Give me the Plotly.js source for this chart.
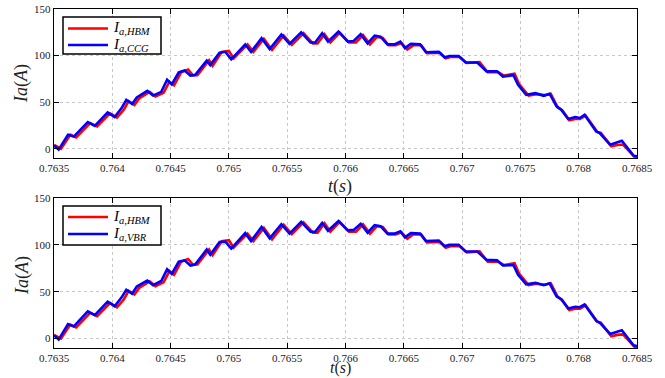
<!DOCTYPE html>
<html>
<head>
<meta charset="utf-8">
<script src="https://cdn.plot.ly/plotly-3.0.1.min.js"></script>
<style>html,body{margin:0;padding:0;background:#fff;}#chart{width:665px;height:378px;}</style>
</head>
<body>
<div id="chart"></div>
<script>
// HBM (reference model) current
const tHBM = [0.7635, 0.76356, 0.76364, 0.76369, 0.76381, 0.76387, 0.76398, 0.76404, 0.76410, 0.76414, 0.76419, 0.76423, 0.76432, 0.76437, 0.76444, 0.76449, 0.76453, 0.76459, 0.76465, 0.76469, 0.76473, 0.76483, 0.76486, 0.76494, 0.76500, 0.76504, 0.76516, 0.76521, 0.76530, 0.76537, 0.76547, 0.76554, 0.76564, 0.76572, 0.76576, 0.76582, 0.76587, 0.76595, 0.76603, 0.76609, 0.76615, 0.76621, 0.76627, 0.76632, 0.76637, 0.76643, 0.76648, 0.76653, 0.76658, 0.76665, 0.76670, 0.76681, 0.76686, 0.76690, 0.76698, 0.76704, 0.76715, 0.76722, 0.76731, 0.76736, 0.76745, 0.76749, 0.76757, 0.76764, 0.76771, 0.76776, 0.76782, 0.76786, 0.76792, 0.76797, 0.76801, 0.76806, 0.76816, 0.76819, 0.76828, 0.76833, 0.76838, 0.76848, 0.7685];
const iHBM = [4, 0, 15, 12, 27.5, 24, 38, 33.5, 42, 51, 47, 54, 61, 56, 60, 72, 68, 82, 85, 79, 79, 95, 89, 104, 105, 97, 112, 104, 118, 106, 121.5, 111.5, 124, 113, 113, 123, 114, 124.5, 114, 114, 122, 112, 120, 119, 111, 111, 113.5, 106.5, 111, 111, 102.5, 103, 97, 98.5, 98.5, 92, 93, 82, 82, 78.5, 80.5, 69, 57, 58.5, 57.5, 59, 44.5, 41, 30.5, 32, 32, 35.5, 18, 17, 2.5, 4, 4.5, -9, -9.5];

// CCG model current
const tCCG = [0.7635, 0.76354, 0.76362, 0.76367, 0.76379, 0.76385, 0.76396, 0.76402, 0.76408, 0.76412, 0.76417, 0.76421, 0.76430, 0.76435, 0.76442, 0.76447, 0.76451, 0.76457, 0.76462, 0.76467, 0.76471, 0.76481, 0.76484, 0.76492, 0.76497, 0.76502, 0.76514, 0.76519, 0.76528, 0.76535, 0.76545, 0.76552, 0.76562, 0.76570, 0.76574, 0.76580, 0.76585, 0.76594, 0.76602, 0.76607, 0.76613, 0.76619, 0.76625, 0.76630, 0.76636, 0.76642, 0.76647, 0.76651, 0.76656, 0.76664, 0.76669, 0.76680, 0.76685, 0.76689, 0.76697, 0.76703, 0.76713, 0.76721, 0.76730, 0.76735, 0.76744, 0.76748, 0.76755, 0.76763, 0.76770, 0.76775, 0.76781, 0.76785, 0.76791, 0.76797, 0.76801, 0.76805, 0.76815, 0.76818, 0.76827, 0.76832, 0.76837, 0.76847, 0.7685];
const iCCG = [3.5, -1, 15, 13, 28.6, 24.6, 39, 34, 43.6, 52.5, 48, 55, 62, 57, 61, 74, 69, 82, 84, 78.5, 79, 94.6, 89.7, 103, 104, 96, 112, 104, 118.6, 107, 122.5, 112.5, 125, 114, 114, 124, 115, 125.7, 115, 115.7, 123, 113, 121.4, 120.3, 112, 112, 115, 108, 112.5, 112, 103.6, 104, 98, 99.6, 99.6, 92.5, 92.5, 83, 83, 77.5, 79, 68.6, 57.9, 59.6, 56.8, 59, 45.4, 41.8, 31.8, 34, 33, 36.4, 18.6, 16.8, 4.3, 6.8, 8.6, -7.5, -8.2];

// VBR model current
const tVBR = [0.7635, 0.76354, 0.76362, 0.76367, 0.76379, 0.76385, 0.76396, 0.76402, 0.76408, 0.76412, 0.76417, 0.76421, 0.76430, 0.76435, 0.76442, 0.76447, 0.76451, 0.76457, 0.76462, 0.76467, 0.76471, 0.76481, 0.76484, 0.76492, 0.76497, 0.76502, 0.76514, 0.76519, 0.76528, 0.76535, 0.76545, 0.76552, 0.76562, 0.76570, 0.76574, 0.76580, 0.76585, 0.76594, 0.76602, 0.76607, 0.76613, 0.76619, 0.76625, 0.76630, 0.76636, 0.76642, 0.76647, 0.76651, 0.76656, 0.76664, 0.76669, 0.76680, 0.76685, 0.76689, 0.76697, 0.76703, 0.76713, 0.76721, 0.76730, 0.76735, 0.76744, 0.76748, 0.76755, 0.76763, 0.76770, 0.76775, 0.76781, 0.76785, 0.76791, 0.76797, 0.76801, 0.76805, 0.76815, 0.76818, 0.76827, 0.76832, 0.76837, 0.76847, 0.7685];
const iVBR = [3.5, -1, 15.5, 13, 29, 25, 39.5, 34.5, 44, 52, 48, 55.5, 62, 57, 61.5, 74, 69, 82, 83.5, 78, 79, 95, 89.5, 103, 103.5, 96, 112.5, 104, 119, 107, 122, 112, 124.5, 114, 114, 123.5, 115, 125.5, 115.5, 116, 122.5, 113, 121, 120, 112, 112, 114.5, 108, 112.5, 112, 104, 104.5, 98.5, 100, 100, 93, 93, 84, 83.5, 78, 78.5, 68, 58, 59.5, 57, 59, 45, 42, 32, 34, 33.5, 36.5, 19, 17, 5, 7, 9, -7, -8];

const xTickVals = [0.7635, 0.764, 0.7645, 0.765, 0.7655, 0.766, 0.7665, 0.767, 0.7675, 0.768, 0.7685];
const xTickText = ['0.7635', '0.764', '0.7645', '0.765', '0.7655', '0.766', '0.7665', '0.767', '0.7675', '0.768', '0.7685'];
const yTickVals = [0, 50, 100, 150];
const legendHBM = '<i>I<sub>a,HBM</sub></i>';
const legendCCG = '<i>I<sub>a,CCG</sub></i>';
const legendVBR = '<i>I<sub>a,VBR</sub></i>';

const RED = '#ff0000', BLUE = '#0000ff';
const LW = 2.6;
const W = 665, H = 378;

const traces = [
  {x: tHBM, y: iHBM, name: legendHBM, mode: 'lines', line: {color: RED, width: LW}, xaxis: 'x', yaxis: 'y', showlegend: false},
  {x: tCCG, y: iCCG, name: legendCCG, mode: 'lines', line: {color: BLUE, width: LW}, xaxis: 'x', yaxis: 'y', showlegend: false},
  {x: tHBM, y: iHBM, name: legendHBM, mode: 'lines', line: {color: RED, width: LW}, xaxis: 'x2', yaxis: 'y2', showlegend: false},
  {x: tVBR, y: iVBR, name: legendVBR, mode: 'lines', line: {color: BLUE, width: LW}, xaxis: 'x2', yaxis: 'y2', showlegend: false}
];

const tickFont = {family: 'Liberation Serif', size: 11, color: '#222'};
function xAx(anchor) {
  return {
    domain: [54/W, 637/W], anchor: anchor, range: [0.7635, 0.7685],
    tickvals: xTickVals, ticktext: xTickText, ticks: 'inside', ticklen: 5, tickcolor: '#000', tickwidth: 1,
    showgrid: true, gridcolor: '#c8c8c8', griddash: 'dot', gridwidth: 1,
    showline: true, linecolor: '#000', linewidth: 1.2, mirror: 'ticks',
    zeroline: false, tickfont: tickFont, automargin: false
  };
}
function yAx(anchor, dom) {
  return {
    domain: dom, anchor: anchor, range: [-10, 150],
    tickvals: yTickVals, ticks: 'inside', ticklen: 5, tickcolor: '#000', tickwidth: 1,
    showgrid: true, gridcolor: '#c8c8c8', griddash: 'dot', gridwidth: 1,
    showline: true, linecolor: '#000', linewidth: 1.2, mirror: 'ticks',
    zeroline: false, tickfont: tickFont, automargin: false
  };
}
const legFont = {family: 'Liberation Serif', size: 15, color: '#000'};
const labelFont = {family: 'Liberation Serif', size: 18, color: '#222'};

// legend boxes drawn in pixel-derived paper coordinates
function px(x) { return x / W; }
function py(y) { return 1 - y / H; }
function legendBox(top, bottom, y1, y2, name1, name2, c1, c2) {
  const shapes = [
    {type: 'rect', xref: 'paper', yref: 'paper', x0: px(63), x1: px(161), y0: py(bottom), y1: py(top), line: {color: '#000', width: 1.5}, fillcolor: '#fff', layer: 'above'},
    {type: 'line', xref: 'paper', yref: 'paper', x0: px(68), x1: px(108), y0: py(y1), y1: py(y1), line: {color: c1, width: LW}, layer: 'above'},
    {type: 'line', xref: 'paper', yref: 'paper', x0: px(68), x1: px(108), y0: py(y2), y1: py(y2), line: {color: c2, width: LW}, layer: 'above'}
  ];
  const anns = [
    {text: name1, x: px(111), y: py(y1), xref: 'paper', yref: 'paper', showarrow: false, font: legFont, xanchor: 'left', yanchor: 'middle'},
    {text: name2, x: px(111), y: py(y2), xref: 'paper', yref: 'paper', showarrow: false, font: legFont, xanchor: 'left', yanchor: 'middle'}
  ];
  return {shapes, anns};
}
const lg1 = legendBox(17, 54, 28.5, 45, legendHBM, legendCCG, RED, BLUE);
const lg2 = legendBox(206, 245, 217, 234, legendHBM, legendVBR, RED, BLUE);

const layout = {
  width: W, height: H,
  margin: {l: 0, r: 0, t: 0, b: 0},
  paper_bgcolor: '#fff', plot_bgcolor: '#fff',
  xaxis: xAx('y'),
  yaxis: yAx('x', [1 - 158/H, 1 - 9/H]),
  xaxis2: xAx('y2'),
  yaxis2: yAx('x2', [1 - 348/H, 1 - 198/H]),
  showlegend: false,
  shapes: lg1.shapes.concat(lg2.shapes),
  annotations: [
    {text: '<i>t</i>(<i>s</i>)', x: 340/W, y: 1 - 174/H, xref: 'paper', yref: 'paper', showarrow: false, font: labelFont, xanchor: 'center', yanchor: 'top'},
    {text: '<i>t</i>(<i>s</i>)', x: 340/W, y: 0, xref: 'paper', yref: 'paper', showarrow: false, font: {family: 'Liberation Serif', size: 16, color: '#222'}, xanchor: 'center', yanchor: 'bottom', borderpad: 0},
    {text: '<i>Ia</i>(<i>A</i>)', x: 22/W, y: 1 - 83/H, xref: 'paper', yref: 'paper', showarrow: false, font: labelFont, textangle: -90, xanchor: 'center', yanchor: 'middle'},
    {text: '<i>Ia</i>(<i>A</i>)', x: 22/W, y: 1 - 275/H, xref: 'paper', yref: 'paper', showarrow: false, font: labelFont, textangle: -90, xanchor: 'center', yanchor: 'middle'}
  ].concat(lg1.anns, lg2.anns)
};

Plotly.newPlot('chart', traces, layout, {staticPlot: true, displayModeBar: false});
</script>
</body>
</html>
